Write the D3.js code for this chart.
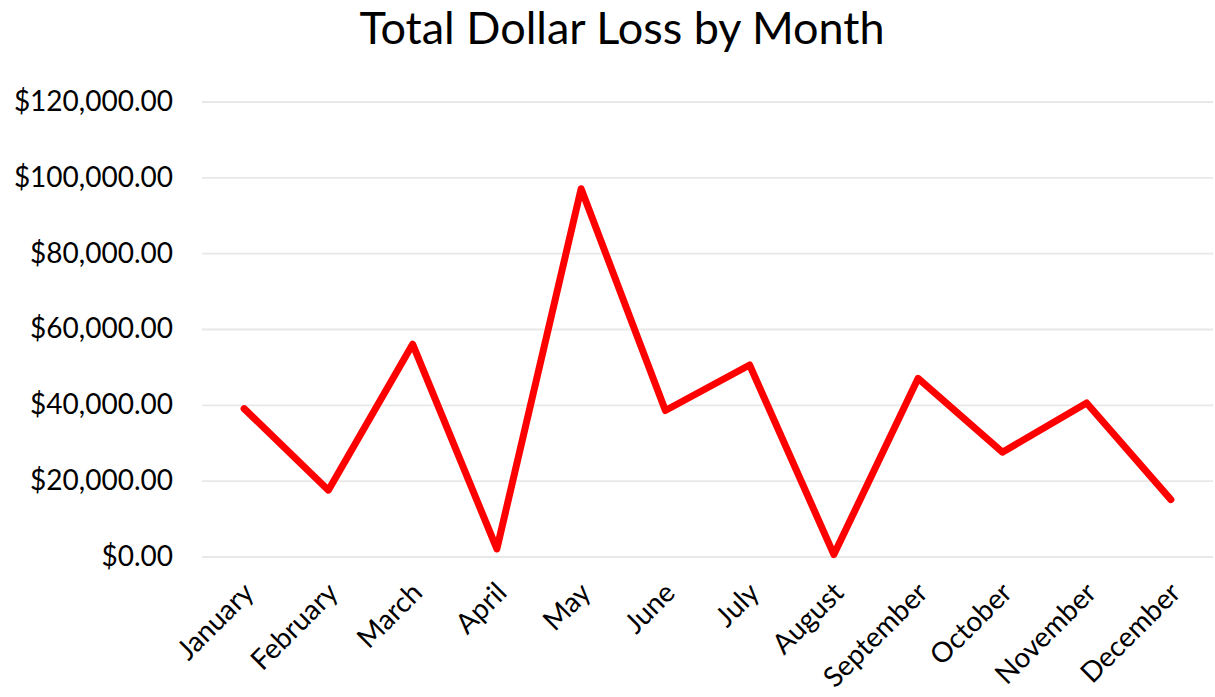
<!DOCTYPE html>
<html>
<head>
<meta charset="utf-8">
<script src="https://cdn.jsdelivr.net/npm/d3@7"></script>
<style>
  body { margin: 0; background: #fff; }
  .lc-svg text { font-family: Lato, "Noto Sans", sans-serif; fill: #000; }
  .grid-line { stroke: #e8e8e8; stroke-width: 1.8; }
  .loss-line { fill: none; stroke: #ff0000; stroke-width: 7; stroke-linejoin: round; stroke-linecap: round; }
</style>
</head>
<body>
<div id="chart"></div>
<script>
const months = ['January', 'February', 'March', 'April', 'May', 'June',
  'July', 'August', 'September', 'October', 'November', 'December'];
const dollarLoss = [39000, 17500, 56000, 2000, 97000, 38500,
  50500, 500, 47000, 27500, 40500, 15000];
const yTicks = [0, 20000, 40000, 60000, 80000, 100000, 120000];
const chartTitle = 'Total Dollar Loss by Month';

class LossChart {
  constructor({ parent }) {
    this.parent = parent;
    this.width = 1215;
    this.height = 697;
    this.plot = { left: 202, right: 1213, top: 101.5, bottom: 556.5 };
    this.initVis();
    this.updateVis();
  }

  initVis() {
    this.svg = d3.select(this.parent)
      .append('svg')
      .attr('class', 'lc-svg')
      .attr('width', this.width)
      .attr('height', this.height);

    this.x = d3.scalePoint()
      .domain(months)
      .range([this.plot.left, this.plot.right])
      .padding(0.5);

    this.y = d3.scaleLinear()
      .domain([0, 120000])
      .range([this.plot.bottom, this.plot.top]);

    this.fmt = v => '$' + d3.format(',.2f')(v);
  }

  updateVis() {
    this.svg.append('text')
      .attr('x', 622)
      .attr('y', 44)
      .attr('text-anchor', 'middle')
      .style('font-size', '45px')
      .text(chartTitle);

    // gridlines + y labels
    const yAxis = this.svg.append('g')
      .attr('transform', `translate(${this.plot.left},0)`)
      .call(d3.axisLeft(this.y)
        .tickValues(yTicks)
        .tickSize(-(this.plot.right - this.plot.left))
        .tickPadding(29)
        .tickFormat(this.fmt));
    yAxis.select('.domain').remove();
    yAxis.selectAll('.tick line').attr('class', 'grid-line');
    yAxis.selectAll('.tick text').style('font-size', '28px');

    // month labels
    const xAxis = this.svg.append('g')
      .attr('transform', `translate(0,${this.plot.bottom})`)
      .call(d3.axisBottom(this.x).tickSize(0));
    xAxis.select('.domain').remove();
    xAxis.selectAll('.tick text')
      .attr('text-anchor', 'end')
      .attr('x', 0)
      .attr('y', 0)
      .attr('dy', '0.35em')
      .attr('transform', 'translate(4,31) rotate(-45)')
      .style('font-size', '28px');

    const line = d3.line()
      .x((d, i) => this.x(months[i]))
      .y(d => this.y(d));

    this.svg.append('path')
      .datum(dollarLoss)
      .attr('class', 'loss-line')
      .attr('d', line);
  }
}

new LossChart({ parent: '#chart' });
</script>
</body>
</html>
